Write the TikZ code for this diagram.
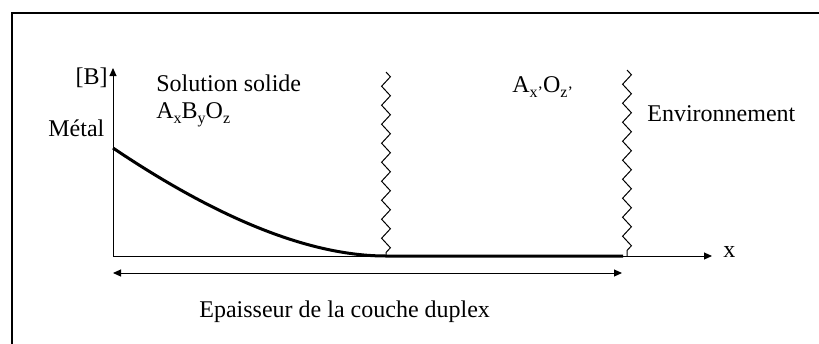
\documentclass[tikz,border=0pt]{standalone}
\usepackage{fontspec}
\setmainfont{Liberation Serif}
\usetikzlibrary{arrows.meta, positioning, decorations.pathmorphing}
\newcommand{\subtxt}[1]{\raisebox{-2.6pt}{\fontsize{8}{8}\selectfont #1}}

\begin{document}
\begin{tikzpicture}[x=0.5pt, y=-0.5pt,
  lbl/.style={inner sep=0pt, font=\fontsize{12}{14}\selectfont},
  axis/.style={line width=0.5pt, -{Triangle[length=4pt, width=3.5pt]}},
  wavy/.style={line width=0.5pt, decorate,
    decoration={zigzag, segment length=9.5pt, amplitude=2.2pt}},
  profile/.style={line width=1.5pt}]
\useasboundingbox (0,0) rectangle (819,343);
\clip (0,0) rectangle (819,343);
\draw[line width=1pt] (12,13) rectangle (840,370);

% axes
\coordinate (O) at (113,256);
\coordinate (ytop) at (113,68);
\coordinate (xend) at (712,256);
\coordinate (front) at (623,256);
\draw[axis] (O) -- (ytop);
\draw[axis] (O) -- (xend);

% interfaces
\coordinate (w1top) at (386,72);
\coordinate (w1bot) at (386,256);
\coordinate (w2top) at (627,70);
\coordinate (w2bot) at (627,256);
\draw[wavy] (w1top) -- (w1bot);
\draw[wavy] (w2top) -- (w2bot);

% concentration profile
\coordinate (start) at (113,148);
\draw[profile] (start) .. controls (220,220) and (311,256) .. (w1bot) -- (front);

% thickness
\coordinate (dl) at (113,273);
\coordinate (dr) at (622,273);
\draw[line width=0.5pt, {Triangle[length=4pt, width=3.5pt]}-{Triangle[length=4pt, width=3.5pt]}] (dl) -- (dr);

% labels
\node[lbl, anchor=base east] (cB) at (108,84) {[B]};
\node[lbl, anchor=base west] (metal) at (48,136) {Métal};
\node[lbl, anchor=base west] (sol) at (156,91) {Solution solide};
\node[lbl, anchor=base west] (sol2) at (156,118) {A\subtxt{x}B\subtxt{y}O\subtxt{z}};
\node[lbl, anchor=base west] (oxy) at (512,92) {A\subtxt{x’}O\subtxt{z’}};
\node[lbl, anchor=base west] (env) at (647,121) {Environnement};
\node[lbl, anchor=base west] (xlbl) at (723,257) {x};
\node[lbl, anchor=base west] (ep) at (199,317) {Epaisseur de la couche duplex};
\end{tikzpicture}
\end{document}
